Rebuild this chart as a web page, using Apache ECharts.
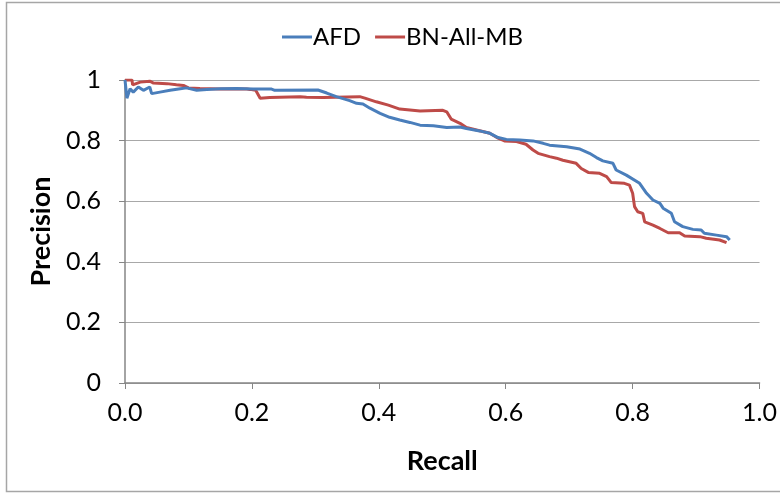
<!DOCTYPE html>
<html>
<head>
<meta charset="utf-8">
<script src="https://cdn.jsdelivr.net/npm/echarts@6/dist/echarts.min.js"></script>
<style>html,body{margin:0;padding:0;background:#fff}#c{width:780px;height:495px}</style>
</head>
<body>
<div id="c"></div>
<script>
var seriesNames = ['AFD', 'BN-All-MB'];
var xTicks = ['0.0', '0.2', '0.4', '0.6', '0.8', '1.0'];
var yTicks = ['0', '0.2', '0.4', '0.6', '0.8', '1'];

var afdRecall = [0.000, 0.003, 0.008, 0.013, 0.021, 0.029, 0.039, 0.042, 0.055, 0.071, 0.087, 0.097, 0.113, 0.129, 0.150, 0.176, 0.202, 0.231, 0.236, 0.304, 0.318, 0.333, 0.354, 0.365, 0.375, 0.386, 0.402, 0.417, 0.433, 0.449, 0.465, 0.486, 0.507, 0.528, 0.538, 0.559, 0.575, 0.588, 0.601, 0.622, 0.643, 0.659, 0.669, 0.696, 0.717, 0.732, 0.743, 0.753, 0.769, 0.774, 0.790, 0.811, 0.822, 0.832, 0.843, 0.848, 0.861, 0.866, 0.879, 0.895, 0.908, 0.913, 0.932, 0.948, 0.953];
var afdPrecision = [1.000, 0.940, 0.971, 0.960, 0.977, 0.966, 0.977, 0.955, 0.960, 0.966, 0.971, 0.974, 0.966, 0.969, 0.971, 0.972, 0.970, 0.970, 0.966, 0.967, 0.957, 0.945, 0.932, 0.923, 0.921, 0.907, 0.890, 0.877, 0.868, 0.860, 0.851, 0.849, 0.843, 0.845, 0.840, 0.832, 0.824, 0.810, 0.804, 0.802, 0.799, 0.791, 0.785, 0.780, 0.772, 0.758, 0.744, 0.733, 0.725, 0.703, 0.686, 0.659, 0.626, 0.604, 0.593, 0.577, 0.560, 0.532, 0.516, 0.507, 0.505, 0.494, 0.488, 0.483, 0.472];

var bnRecall = [0.000, 0.011, 0.012, 0.024, 0.039, 0.045, 0.066, 0.081, 0.092, 0.100, 0.118, 0.150, 0.192, 0.197, 0.206, 0.213, 0.228, 0.276, 0.286, 0.312, 0.370, 0.378, 0.396, 0.415, 0.433, 0.465, 0.501, 0.507, 0.514, 0.528, 0.538, 0.554, 0.575, 0.588, 0.598, 0.617, 0.632, 0.643, 0.651, 0.669, 0.680, 0.690, 0.711, 0.719, 0.730, 0.748, 0.759, 0.766, 0.787, 0.795, 0.800, 0.803, 0.808, 0.816, 0.819, 0.832, 0.843, 0.856, 0.874, 0.882, 0.906, 0.916, 0.937, 0.948];
var bnPrecision = [1.000, 1.000, 0.984, 0.993, 0.996, 0.990, 0.988, 0.984, 0.982, 0.974, 0.972, 0.970, 0.970, 0.969, 0.966, 0.940, 0.942, 0.945, 0.943, 0.942, 0.945, 0.940, 0.928, 0.917, 0.904, 0.898, 0.900, 0.895, 0.871, 0.857, 0.843, 0.835, 0.824, 0.808, 0.799, 0.797, 0.788, 0.769, 0.758, 0.747, 0.742, 0.735, 0.725, 0.708, 0.695, 0.692, 0.681, 0.662, 0.659, 0.653, 0.626, 0.582, 0.565, 0.560, 0.532, 0.521, 0.510, 0.496, 0.496, 0.485, 0.483, 0.478, 0.472, 0.463];

function pairs(xs, ys) { return xs.map(function (x, i) { return [x, ys[i]]; }); }

var font = "Lato, 'Open Sans', sans-serif";
var chart = echarts.init(document.getElementById('c'), null, {renderer: 'canvas'});
chart.setOption({
  animation: false,
  backgroundColor: '#fff',
  graphic: [{
    type: 'rect', shape: {x: 6.5, y: 2.5, width: 780, height: 489},
    style: {fill: 'none', stroke: '#a6a6a6', lineWidth: 1.5}, silent: true, z: -1
  }],
  legend: {
    data: seriesNames.map(function (n) { return {name: n, icon: 'rect'}; }),
    left: 277, top: 20,
    itemWidth: 30, itemHeight: 3, itemGap: 14,
    textStyle: {fontFamily: font, fontSize: 24, color: '#000', padding: [0, 0, 0, -4]}
  },
  grid: {left: 125, right: 20, top: 80, bottom: 112, containLabel: false},
  xAxis: {
    type: 'value', min: 0, max: 1, interval: 0.2,
    name: 'Recall', nameLocation: 'middle', nameGap: 65,
    nameTextStyle: {fontFamily: font, fontSize: 27, fontWeight: 'bold', color: '#000'},
    axisLine: {show: true, onZero: false, lineStyle: {color: '#868686', width: 1.5}},
    axisTick: {show: true, inside: false, length: 6, lineStyle: {color: '#868686'}},
    splitLine: {show: false},
    axisLabel: {fontFamily: font, fontSize: 25, color: '#000', margin: 17,
      formatter: function (v) { return xTicks[Math.round(v / 0.2)]; }}
  },
  yAxis: {
    type: 'value', min: 0, max: 1, interval: 0.2,
    name: 'Precision', nameLocation: 'middle', nameGap: 69,
    nameTextStyle: {fontFamily: font, fontSize: 27, fontWeight: 'bold', color: '#000'},
    axisLine: {show: true, lineStyle: {color: '#868686', width: 1.5}},
    axisTick: {show: true, inside: false, length: 6, lineStyle: {color: '#868686'}},
    splitLine: {show: true, lineStyle: {color: '#a8a8a8', width: 1.2}},
    axisLabel: {fontFamily: font, fontSize: 25, color: '#000', margin: 24,
      formatter: function (v) { return yTicks[Math.round(v / 0.2)]; }}
  },
  series: [
    {name: seriesNames[0], type: 'line', data: pairs(afdRecall, afdPrecision),
      showSymbol: false, symbol: 'none', color: '#4A7EBB',
      lineStyle: {color: '#4A7EBB', width: 3}, z: 3},
    {name: seriesNames[1], type: 'line', data: pairs(bnRecall, bnPrecision),
      showSymbol: false, symbol: 'none', color: '#BE4B48',
      lineStyle: {color: '#BE4B48', width: 3}, z: 2}
  ]
});
</script>
</body>
</html>
